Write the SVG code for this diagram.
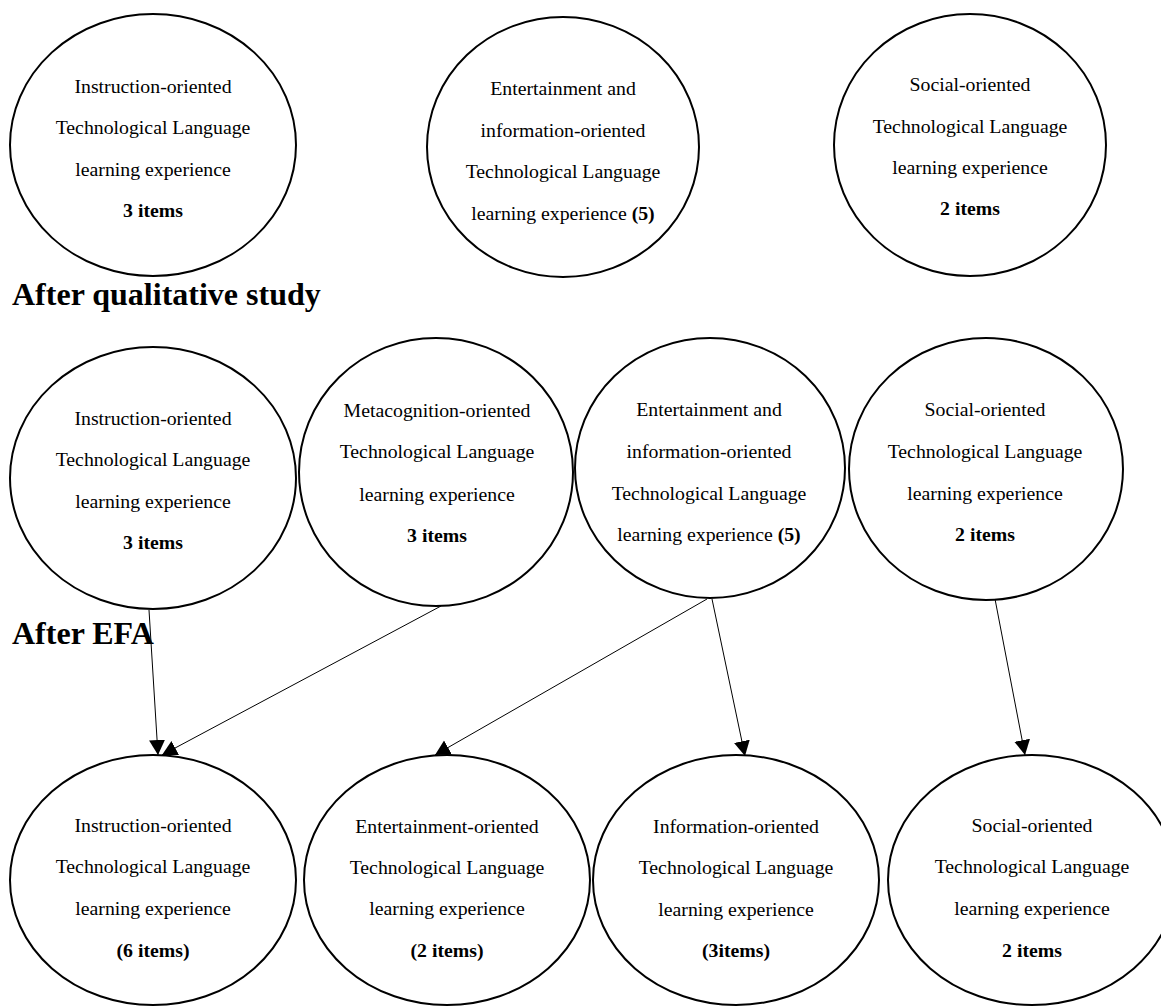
<svg xmlns="http://www.w3.org/2000/svg" width="1161" height="1007" viewBox="0 0 1161 1007">
<style>
  .node ellipse { fill: #ffffff; stroke: #000000; stroke-width: 2; }
  .node text { font-family: "Liberation Serif", "Times New Roman", serif; font-size: 19.8px; fill: #000000; text-anchor: middle; }
  .b { font-weight: bold; }
  .heading { font-family: "Liberation Serif", "Times New Roman", serif; font-size: 32px; font-weight: bold; fill: #000000; }
  .conn line { stroke: #000000; stroke-width: 1; fill: none; }
</style>
<defs>
  <marker id="arrow" markerUnits="userSpaceOnUse" markerWidth="18" markerHeight="18" refX="15" refY="8" orient="auto">
    <path d="M0,0 L15,8 L0,16 Z" fill="#000000"/>
  </marker>
</defs>
<rect x="0" y="0" width="1161" height="1007" fill="#ffffff"/>

<!-- Top row -->
<g id="top-instruction" class="node">
  <ellipse cx="153" cy="145" rx="143" ry="131"/>
  <text x="153" y="93">Instruction-oriented</text>
  <text x="153" y="134">Technological Language</text>
  <text x="153" y="176">learning experience</text>
  <text x="153" y="217" class="b">3 items</text>
</g>
<g id="top-entertainment-information" class="node">
  <ellipse cx="563" cy="147" rx="136" ry="130"/>
  <text x="563" y="95">Entertainment and</text>
  <text x="563" y="137">information-oriented</text>
  <text x="563" y="178">Technological Language</text>
  <text x="563" y="220">learning experience <tspan class="b">(5)</tspan></text>
</g>
<g id="top-social" class="node">
  <ellipse cx="970" cy="145" rx="136" ry="131"/>
  <text x="970" y="91">Social-oriented</text>
  <text x="970" y="133">Technological Language</text>
  <text x="970" y="174">learning experience</text>
  <text x="970" y="215" class="b">2 items</text>
</g>

<text id="heading-qualitative" class="heading" x="12" y="305">After qualitative study</text>

<!-- Middle row -->
<g id="mid-instruction" class="node">
  <ellipse cx="153" cy="478" rx="143" ry="131"/>
  <text x="153" y="425">Instruction-oriented</text>
  <text x="153" y="466">Technological Language</text>
  <text x="153" y="508">learning experience</text>
  <text x="153" y="549" class="b">3 items</text>
</g>
<g id="mid-metacognition" class="node">
  <ellipse cx="436" cy="472" rx="137" ry="134"/>
  <text x="437" y="417">Metacognition-oriented</text>
  <text x="437" y="458">Technological Language</text>
  <text x="437" y="501">learning experience</text>
  <text x="437" y="542" class="b">3 items</text>
</g>
<g id="mid-entertainment-information" class="node">
  <ellipse cx="710" cy="468" rx="135" ry="130"/>
  <text x="709" y="416">Entertainment and</text>
  <text x="709" y="458">information-oriented</text>
  <text x="709" y="500">Technological Language</text>
  <text x="709" y="541">learning experience <tspan class="b">(5)</tspan></text>
</g>
<g id="mid-social" class="node">
  <ellipse cx="986" cy="469" rx="137" ry="131"/>
  <text x="985" y="416">Social-oriented</text>
  <text x="985" y="458">Technological Language</text>
  <text x="985" y="500">learning experience</text>
  <text x="985" y="541" class="b">2 items</text>
</g>

<text id="heading-efa" class="heading" x="12" y="644">After EFA</text>

<!-- Bottom row -->
<g id="bot-instruction" class="node">
  <ellipse cx="153" cy="880" rx="143" ry="125"/>
  <text x="153" y="832">Instruction-oriented</text>
  <text x="153" y="873">Technological Language</text>
  <text x="153" y="915">learning experience</text>
  <text x="153" y="957" class="b">(6 items)</text>
</g>
<g id="bot-entertainment" class="node">
  <ellipse cx="447" cy="880" rx="143" ry="125"/>
  <text x="447" y="833">Entertainment-oriented</text>
  <text x="447" y="874">Technological Language</text>
  <text x="447" y="915">learning experience</text>
  <text x="447" y="957" class="b">(2 items)</text>
</g>
<g id="bot-information" class="node">
  <ellipse cx="736" cy="880" rx="143" ry="125"/>
  <text x="736" y="833">Information-oriented</text>
  <text x="736" y="874">Technological Language</text>
  <text x="736" y="916">learning experience</text>
  <text x="736" y="957" class="b">(3items)</text>
</g>
<g id="bot-social" class="node">
  <ellipse cx="1032" cy="880" rx="144" ry="125"/>
  <text x="1032" y="832">Social-oriented</text>
  <text x="1032" y="873">Technological Language</text>
  <text x="1032" y="915">learning experience</text>
  <text x="1032" y="957" class="b">2 items</text>
</g>

<!-- Connectors -->
<g id="connectors" class="conn">
  <line x1="149" y1="610" x2="158" y2="755" marker-end="url(#arrow)"/>
  <line x1="441" y1="606" x2="162" y2="755" marker-end="url(#arrow)"/>
  <line x1="707" y1="599" x2="435" y2="755" marker-end="url(#arrow)"/>
  <line x1="712" y1="599" x2="745" y2="756" marker-end="url(#arrow)"/>
  <line x1="995" y1="599" x2="1025" y2="755" marker-end="url(#arrow)"/>
</g>
</svg>
